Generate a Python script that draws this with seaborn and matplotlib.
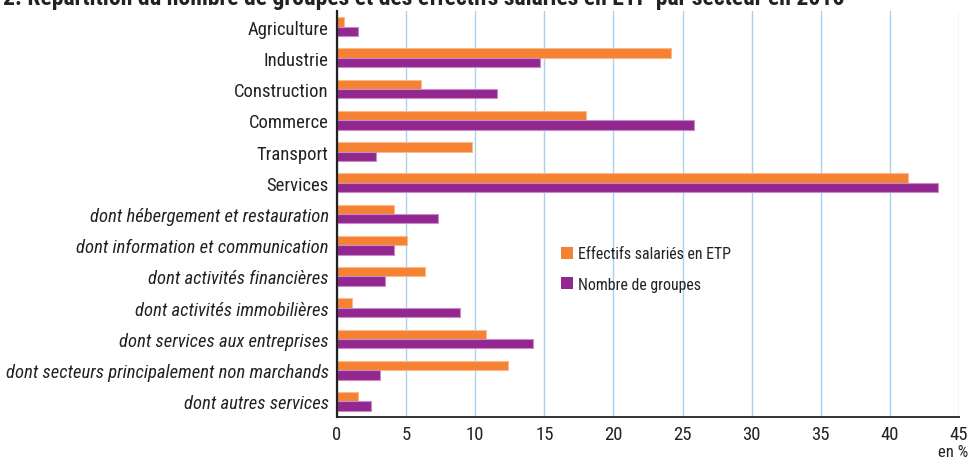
import matplotlib
matplotlib.use('Agg')
import matplotlib.pyplot as plt
import seaborn as sns
import pandas as pd
from matplotlib import font_manager as fm
from matplotlib.patches import Patch
from matplotlib.textpath import TextPath
from matplotlib.font_manager import FontProperties

categories = ["Agriculture", "Industrie", "Construction", "Commerce", "Transport", "Services",
              "dont hébergement et restauration", "dont information et communication",
              "dont activités financières", "dont activités immobilières",
              "dont services aux entreprises", "dont secteurs principalement non marchands",
              "dont autres services"]
effectifs = [0.5, 24.2, 6.1, 18.0, 9.8, 41.3, 4.1, 5.1, 6.4, 1.1, 10.8, 12.35, 1.5]
groupes = [1.5, 14.7, 11.6, 25.8, 2.85, 43.5, 7.3, 4.1, 3.5, 8.9, 14.2, 3.1, 2.45]
series = ["Effectifs salariés en ETP", "Nombre de groupes"]
xticks = [0, 5, 10, 15, 20, 25, 30, 35, 40, 45]
title = "2. Répartition du nombre de groupes et des effectifs salariés en ETP par secteur en 2016"

sns.set_style("white")

# pick a condensed family if one is installed
cond_stretch = {"condensed", "semi-condensed", "extra-condensed", "ultra-condensed"}
fonts = fm.fontManager.ttflist
names = {f.name for f in fonts}
cond_names = {f.name for f in fonts if (str(f.stretch) in cond_stretch) or
              (isinstance(f.stretch, int) and f.stretch < 500)}
fam = None
stretch = "normal"
for cand in ["Liberation Sans Narrow", "Roboto Condensed", "Open Sans Condensed",
             "Noto Sans Condensed", "DejaVu Sans Condensed"]:
    if cand in names:
        fam = cand
        break
if fam is None:
    for cand in ["Roboto", "Noto Sans", "Open Sans", "DejaVu Sans", "Liberation Sans"]:
        if cand in cond_names:
            fam = cand
            stretch = "condensed"
            break
if fam is None:
    fam = "Liberation Sans"
plt.rcParams['font.family'] = [fam, 'DejaVu Sans']
plt.rcParams['font.stretch'] = stretch


def fit_size(text, target_px, base=13.0, **kw):
    fp = FontProperties(family=[fam, 'DejaVu Sans'], stretch=stretch, size=base, **kw)
    w = TextPath((0, 0), text, prop=fp).get_extents().width  # in points
    return base * target_px * 0.72 / w  # 100 dpi: 1 px = 0.72 pt


ysize = min(13.5, fit_size("dont secteurs principalement non marchands", 322, style="italic"))
tsize = min(17.0, fit_size(title, 922, weight="bold"))
xsize = min(13.5, ysize * 1.05)
lsize = min(12.5, fit_size("Effectifs salariés en ETP", 152))

colors = ["#f58233", "#92278f"]
edges = ["#f9b98c", "#c98bc7"]

df = pd.DataFrame({
    "cat": categories * 2,
    "val": effectifs + groupes,
    "serie": [series[0]] * len(categories) + [series[1]] * len(categories),
})

fig = plt.figure(figsize=(9.68, 4.60), dpi=100)
ax = fig.add_axes([337 / 968, 1 - 418 / 460, (959 - 337) / 968, (418 - 12) / 460])
sns.barplot(data=df, y="cat", x="val", hue="serie", order=categories, hue_order=series,
            palette=colors, saturation=1, orient="h", width=0.6, ax=ax, legend=False)
for i, cont in enumerate(ax.containers):
    for p in cont:
        p.set_edgecolor(edges[i])
        p.set_linewidth(0.8)

ax.set_xlim(0, 45)
ax.set_xticks(xticks)
ax.set_xticklabels([str(t) for t in xticks], fontsize=xsize, color="#222222")
ax.set_xlabel("")
ax.set_ylabel("")
for lab in ax.get_yticklabels():
    lab.set_fontsize(ysize)
    lab.set_color("#222222")
    if lab.get_text().startswith("dont"):
        lab.set_fontstyle("italic")
ax.tick_params(axis='y', length=0, pad=6)
ax.tick_params(axis='x', length=0, pad=6)
ax.grid(axis='x', color="#a6d3f2", linewidth=1)
ax.set_axisbelow(True)
for s in ["top", "right"]:
    ax.spines[s].set_visible(False)
ax.spines["left"].set_color("#222222")
ax.spines["left"].set_linewidth(1.6)
ax.spines["left"].set_zorder(5)
ax.spines["bottom"].set_color("#333333")
ax.spines["bottom"].set_linewidth(1.4)

handles = [Patch(facecolor=c, edgecolor='none') for c in colors]
leg = ax.legend(handles, series, loc="upper left", bbox_to_anchor=(0.36, 0.42), frameon=False,
                fontsize=lsize, handlelength=0.75, handleheight=0.75, handletextpad=0.35,
                labelspacing=0.95, borderaxespad=0, borderpad=0)
for t in leg.get_texts():
    t.set_color("#222222")

fig.text(3 / 968, 1 - 5 / 460, title, fontsize=tsize, fontweight="bold", va="baseline",
         ha="left", color="#222222")
fig.text(968 / 968, 0 / 460, "en %", fontsize=min(12, xsize), ha="right", va="bottom", color="#222222")

fig.savefig("out.png", dpi=100)
